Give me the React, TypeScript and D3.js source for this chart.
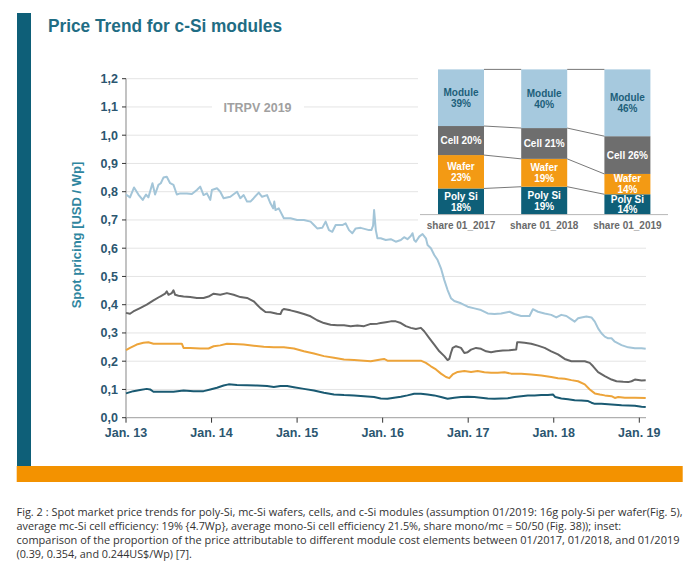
import * as d3 from "d3";

// spot prices in USD/Wp, [months since Jan. 2013, value]
const modulePrice: [number, number][] = [
  [0, 0.79], [0.56, 0.78], [1.13, 0.815], [1.74, 0.79], [2.35, 0.771], [2.81, 0.79], [3.14, 0.78],
  [3.71, 0.83], [4.08, 0.79], [4.55, 0.824], [4.88, 0.83], [5.25, 0.85], [5.72, 0.853], [6.19, 0.83],
  [6.66, 0.824], [7.13, 0.79], [7.6, 0.794], [8.53, 0.794], [9.24, 0.792], [9.94, 0.806], [10.41, 0.818],
  [10.88, 0.788], [11.35, 0.794], [11.82, 0.771], [12.05, 0.806], [12.76, 0.812], [13.22, 0.8],
  [13.69, 0.777], [14.63, 0.782], [15.57, 0.8], [16.04, 0.777], [16.51, 0.788], [16.98, 0.765],
  [17.45, 0.765], [17.91, 0.777], [18.62, 0.797], [19.09, 0.782], [19.79, 0.788], [20.26, 0.759],
  [20.64, 0.741], [20.8, 0.765], [20.97, 0.735], [21.43, 0.741], [22.14, 0.706], [23.08, 0.706],
  [24.01, 0.7], [24.95, 0.7], [25.89, 0.694], [26.36, 0.682], [26.82, 0.67], [27.53, 0.672], [28.0, 0.694],
  [28.47, 0.664], [28.94, 0.658], [29.41, 0.682], [30.35, 0.682], [30.81, 0.688], [31.28, 0.664],
  [31.75, 0.653], [32.22, 0.67], [32.92, 0.672], [34.09, 0.664], [34.42, 0.664], [34.66, 0.68],
  [34.8, 0.735], [35.04, 0.664], [35.27, 0.635], [35.73, 0.635], [36.44, 0.629], [37.14, 0.632],
  [37.84, 0.623], [38.55, 0.629], [39.01, 0.639], [39.48, 0.632], [39.95, 0.643], [40.19, 0.653],
  [40.42, 0.629], [40.66, 0.623], [41.13, 0.641], [41.6, 0.65], [42.07, 0.635], [42.3, 0.611],
  [42.77, 0.6], [43.24, 0.576], [43.71, 0.558], [44.18, 0.529], [44.65, 0.487], [45.11, 0.452],
  [45.58, 0.423], [46.05, 0.413], [46.99, 0.405], [47.93, 0.393], [48.87, 0.387], [49.8, 0.381],
  [50.74, 0.369], [51.68, 0.367], [52.62, 0.369], [53.8, 0.375], [54.49, 0.367], [55.43, 0.36],
  [56.6, 0.36], [57.07, 0.384], [57.78, 0.375], [58.72, 0.369], [59.65, 0.364], [60.36, 0.355],
  [61.06, 0.364], [61.77, 0.36], [62.47, 0.348], [62.94, 0.34], [63.41, 0.352], [63.88, 0.355],
  [64.58, 0.358], [65.29, 0.355], [65.76, 0.34], [66.22, 0.316], [66.69, 0.299], [67.16, 0.287],
  [67.63, 0.281], [68.1, 0.281], [68.57, 0.269], [69.51, 0.257], [70.44, 0.249], [71.38, 0.246],
  [72.32, 0.246], [72.9, 0.244],
];

const cellPrice: [number, number][] = [
  [0, 0.371], [0.56, 0.368], [1.03, 0.376], [1.97, 0.388], [2.91, 0.4], [3.85, 0.415], [4.78, 0.429],
  [5.49, 0.439], [5.72, 0.447], [5.96, 0.435], [6.43, 0.441], [6.66, 0.451], [6.9, 0.435], [7.36, 0.432],
  [8.07, 0.429], [9.0, 0.427], [9.94, 0.424], [10.88, 0.424], [11.58, 0.429], [12.29, 0.439],
  [13.22, 0.435], [14.16, 0.441], [15.1, 0.435], [16.04, 0.427], [16.98, 0.424], [17.91, 0.412],
  [18.38, 0.4], [18.85, 0.388], [19.56, 0.374], [20.26, 0.373], [21.2, 0.368], [21.67, 0.367],
  [21.9, 0.38], [22.14, 0.385], [23.08, 0.38], [24.01, 0.374], [24.95, 0.367], [25.89, 0.359],
  [26.82, 0.345], [27.76, 0.335], [28.7, 0.329], [29.64, 0.327], [30.58, 0.327], [31.51, 0.324],
  [32.45, 0.326], [33.39, 0.324], [34.33, 0.332], [35.27, 0.333], [35.73, 0.335], [36.44, 0.338],
  [37.14, 0.341], [37.84, 0.341], [38.55, 0.335], [39.25, 0.324], [39.95, 0.318], [40.66, 0.314],
  [41.36, 0.318], [41.83, 0.306], [42.54, 0.282], [43.24, 0.259], [43.95, 0.235], [44.65, 0.218],
  [45.11, 0.204], [45.35, 0.208], [45.58, 0.229], [45.82, 0.247], [46.29, 0.253], [46.99, 0.247],
  [47.46, 0.229], [47.93, 0.232], [48.4, 0.241], [49.1, 0.247], [49.8, 0.244], [50.51, 0.235],
  [51.21, 0.232], [51.92, 0.235], [52.86, 0.238], [53.8, 0.239], [54.73, 0.241], [54.87, 0.267],
  [55.2, 0.267], [55.9, 0.265], [56.84, 0.262], [57.78, 0.255], [58.72, 0.247], [59.65, 0.235],
  [60.59, 0.224], [61.53, 0.208], [62.47, 0.2], [63.41, 0.2], [64.35, 0.2], [65.05, 0.194],
  [65.52, 0.182], [66.22, 0.161], [67.16, 0.147], [68.1, 0.135], [68.8, 0.129], [69.74, 0.127],
  [70.44, 0.126], [70.91, 0.129], [71.38, 0.135], [72.32, 0.132], [72.9, 0.133],
];

const waferPrice: [number, number][] = [
  [0, 0.239], [0.56, 0.247], [1.5, 0.259], [2.44, 0.265], [3.14, 0.267], [3.85, 0.262], [4.78, 0.262],
  [6.19, 0.262], [7.83, 0.262], [8.07, 0.247], [9.0, 0.247], [10.41, 0.245], [11.58, 0.245],
  [12.29, 0.253], [13.22, 0.256], [14.16, 0.262], [15.1, 0.261], [16.51, 0.259], [17.91, 0.255],
  [19.32, 0.251], [20.73, 0.249], [22.14, 0.249], [23.55, 0.245], [24.95, 0.235], [26.36, 0.227],
  [27.76, 0.218], [29.17, 0.212], [30.58, 0.206], [31.99, 0.204], [33.39, 0.202], [34.33, 0.2],
  [35.73, 0.206], [36.2, 0.208], [36.67, 0.202], [38.55, 0.202], [39.95, 0.202], [41.36, 0.202],
  [42.07, 0.194], [42.77, 0.182], [43.48, 0.171], [44.18, 0.156], [44.89, 0.144], [45.35, 0.14],
  [45.82, 0.153], [46.52, 0.162], [47.46, 0.165], [48.4, 0.162], [49.33, 0.165], [50.27, 0.161],
  [51.21, 0.159], [52.15, 0.159], [53.09, 0.161], [54.02, 0.156], [55.43, 0.156], [56.84, 0.153],
  [58.25, 0.149], [59.65, 0.144], [60.59, 0.14], [61.53, 0.138], [62.47, 0.133], [63.41, 0.129],
  [64.35, 0.118], [65.05, 0.1], [65.76, 0.086], [66.46, 0.082], [67.16, 0.079], [68.1, 0.076],
  [68.57, 0.07], [69.04, 0.073], [69.98, 0.071], [71.38, 0.071], [72.9, 0.07],
];

const polyPrice: [number, number][] = [
  [0, 0.086], [1.03, 0.094], [1.97, 0.098], [2.91, 0.102], [3.38, 0.1], [3.85, 0.092], [5.25, 0.092],
  [6.66, 0.092], [8.07, 0.096], [9.47, 0.094], [10.88, 0.094], [11.82, 0.1], [12.76, 0.106],
  [13.69, 0.114], [14.4, 0.118], [15.57, 0.116], [16.98, 0.115], [18.38, 0.114], [19.79, 0.112],
  [20.73, 0.109], [21.67, 0.112], [22.61, 0.112], [23.55, 0.108], [24.95, 0.102], [26.36, 0.096],
  [27.76, 0.088], [29.17, 0.082], [30.58, 0.08], [31.99, 0.079], [33.39, 0.076], [34.8, 0.073],
  [35.73, 0.068], [36.67, 0.067], [37.6, 0.071], [38.55, 0.074], [39.48, 0.079], [40.42, 0.085],
  [41.36, 0.085], [42.3, 0.082], [43.24, 0.079], [44.18, 0.073], [45.11, 0.067], [46.05, 0.071],
  [46.99, 0.073], [47.93, 0.074], [48.87, 0.073], [49.8, 0.071], [50.74, 0.068], [51.68, 0.067],
  [52.62, 0.068], [53.56, 0.069], [54.49, 0.073], [55.43, 0.076], [56.37, 0.079], [57.31, 0.079],
  [58.25, 0.08], [59.18, 0.08], [59.89, 0.082], [60.22, 0.073], [61.06, 0.068], [62.0, 0.065],
  [62.94, 0.062], [63.88, 0.061], [64.82, 0.059], [65.29, 0.053], [65.76, 0.049], [66.69, 0.049],
  [67.63, 0.048], [68.57, 0.046], [69.51, 0.044], [70.44, 0.043], [71.38, 0.042], [72.32, 0.039],
  [72.9, 0.038],
];

const yTicks = [0, 0.1, 0.2, 0.3, 0.4, 0.5, 0.6, 0.7, 0.8, 0.9, 1.0, 1.1, 1.2];
const xTickMonths = [0, 12, 24, 36, 48, 60, 72];
const xTickLabels = ["Jan. 13", "Jan. 14", "Jan. 15", "Jan. 16", "Jan. 17", "Jan. 18", "Jan. 19"];

// inset: share of module price (%)
const shareYears = ["share 01_2017", "share 01_2018", "share 01_2019"];
const polyShare = [18, 19, 14];
const waferShare = [23, 19, 14];
const cellShare = [20, 21, 26];
const moduleShare = [39, 40, 46];

const caption = [
  "Fig. 2 : Spot market price trends for poly-Si, mc-Si wafers, cells, and c-Si modules (assumption 01/2019: 16g poly-Si per wafer(Fig. 5),",
  "average mc-Si cell efficiency: 19% {4.7Wp}, average mono-Si cell efficiency 21.5%, share mono/mc = 50/50 (Fig. 38)); inset:",
  "comparison of the proportion of the price attributable to different module cost elements between 01/2017, 01/2018, and 01/2019",
  "(0.39, 0.354, and 0.244US$/Wp) [7].",
];
// only the full lines are stretched to the text block width
const captionWidths: (number | undefined)[] = [666, undefined, 663, undefined];

const FONT = "'Liberation Sans', Arial, sans-serif";
const TEAL = "#0e5f78";
const TICK_TEXT = "#2b5670";

const segs = [
  { key: "poly", name: "Poly Si", fill: "#0e5f78", text: "#ffffff", oneLine: false },
  { key: "wafer", name: "Wafer", fill: "#f39a14", text: "#ffffff", oneLine: false },
  { key: "cell", name: "Cell", fill: "#6e6e6e", text: "#ffffff", oneLine: true },
  { key: "module", name: "Module", fill: "#a6c9de", text: "#1d5f7a", oneLine: false },
];
const shareByKey: Record<string, number[]> = {
  poly: polyShare,
  wafer: waferShare,
  cell: cellShare,
  module: moduleShare,
};

const series = [
  { data: polyPrice, color: "#1a5a72" },
  { data: waferPrice, color: "#eda43a" },
  { data: cellPrice, color: "#666666" },
  { data: modulePrice, color: "#a3c5d8" },
];

export default function App() {
  const x = d3.scaleLinear().domain([0, 72]).range([126, 639.3]);
  const y = d3.scaleLinear().domain([0, 1.2]).range([417.7, 78.7]);
  const plotRight = 646;

  const line = d3
    .line<[number, number]>()
    .x((d) => x(d[0]))
    .y((d) => y(d[1]));

  // inset scales
  const rows = shareYears.map((yr, i) => ({
    yr,
    poly: polyShare[i],
    wafer: waferShare[i],
    cell: cellShare[i],
    module: moduleShare[i],
  }));
  const stacked = d3
    .stack<any>()
    .keys(segs.map((s) => s.key))
    .offset(d3.stackOffsetExpand)(rows);
  const ix = d3.scalePoint().domain(shareYears).range([461, 627.4]);
  const iy = d3.scaleLinear().domain([0, 1]).range([214.6, 69.4]);
  const bw = 46;

  const fmt = (v: number) => d3.format(".1f")(v).replace(".", ",");

  return (
    <svg
      width={700}
      height={571}
      style={{ position: "absolute", left: 0, top: 0, background: "#fff" }}
      fontFamily={FONT}
    >
      <rect x={0} y={0} width={700} height={571} fill="#fff" />
      {/* frame */}
      <rect x={17} y={13} width={14} height={453} fill={TEAL} />
      <rect x={16.7} y={466} width={666} height={16} fill="#f39200" />

      <text x={48} y={32} fontSize={18} fontWeight="bold" fill="#1f6d84" textLength={234} lengthAdjust="spacingAndGlyphs">
        Price Trend for c-Si modules
      </text>

      {/* grid */}
      {yTicks.slice(1).map((t) => (
        <line key={t} x1={x(0)} x2={plotRight} y1={y(t)} y2={y(t)} stroke="#e4e4e4" strokeWidth={1} />
      ))}

      {/* ITRPV label */}
      <rect x={212} y={100} width={92} height={14} fill="#fff" />
      <text x={257.5} y={111.5} textAnchor="middle" fontSize={12.5} fontWeight="bold" fill="#a0a0a0">
        ITRPV 2019
      </text>

      {/* axes */}
      <line x1={x(0)} x2={x(0)} y1={y(1.2)} y2={y(0)} stroke="#9a9a9a" strokeWidth={1.2} />
      <line x1={x(0)} x2={plotRight} y1={y(0)} y2={y(0)} stroke="#b0b0b0" strokeWidth={1.2} />
      {yTicks.map((t) => (
        <g key={t}>
          <line x1={x(0) - 4} x2={x(0)} y1={y(t)} y2={y(t)} stroke="#333" strokeWidth={1} />
          <text x={118} y={y(t) + 4.5} textAnchor="end" fontSize={12.5} fontWeight="bold" fill={TICK_TEXT}>
            {fmt(t)}
          </text>
        </g>
      ))}
      {xTickMonths.map((m, i) => (
        <g key={m}>
          <line x1={x(m)} x2={x(m)} y1={y(0)} y2={y(0) + 5} stroke="#333" strokeWidth={1} />
          <text x={x(m)} y={437} textAnchor="middle" fontSize={12.5} fontWeight="bold" fill={TICK_TEXT}>
            {xTickLabels[i]}
          </text>
        </g>
      ))}
      <text
        transform="translate(81,235) rotate(-90)"
        textAnchor="middle"
        fontSize={13}
        fontWeight="bold"
        fill="#2f86a0"
      >
        Spot pricing [USD / Wp]
      </text>

      {/* price lines */}
      {series.map((s, i) => (
        <path key={i} d={line(s.data) || ""} fill="none" stroke={s.color} strokeWidth={2} strokeLinejoin="round" />
      ))}

      {/* inset */}
      <rect x={418} y={60} width={254} height={172} fill="#fff" />
      {stacked.map((layer, k) =>
        layer.map((d, i) => {
          const cx = ix(shareYears[i]) as number;
          const y0 = iy(d[0]);
          const y1 = iy(d[1]);
          const mid = (y0 + y1) / 2;
          const seg = segs[k];
          const pct = `${shareByKey[seg.key][i]}%`;
          return (
            <g key={`${k}-${i}`}>
              <rect x={cx - bw / 2} y={y1} width={bw} height={y0 - y1} fill={seg.fill} />
              {seg.oneLine ? (
                <text x={cx} y={mid + 3.6} textAnchor="middle" fontSize={10} fontWeight="bold" fill={seg.text}>
                  {`${seg.name} ${pct}`}
                </text>
              ) : (
                <text x={cx} textAnchor="middle" fontSize={10} fontWeight="bold" fill={seg.text}>
                  <tspan x={cx} y={mid - 1.8}>{seg.name}</tspan>
                  <tspan x={cx} y={mid + 9}>{pct}</tspan>
                </text>
              )}
            </g>
          );
        })
      )}
      {/* connectors between columns */}
      {stacked.map((layer, k) =>
        layer.slice(0, -1).map((d, i) => (
          <line
            key={`c${k}-${i}`}
            x1={(ix(shareYears[i]) as number) + bw / 2}
            x2={(ix(shareYears[i + 1]) as number) - bw / 2}
            y1={iy(d[1])}
            y2={iy(layer[i + 1][1])}
            stroke="#555"
            strokeWidth={0.8}
          />
        ))
      )}
      <line x1={420} x2={668} y1={iy(0)} y2={iy(0)} stroke="#b8b8b8" strokeWidth={1} />
      {shareYears.map((s) => (
        <text key={s} x={ix(s) as number} y={229} textAnchor="middle" fontSize={10} fontWeight="bold" fill="#6a6a6a">
          {s}
        </text>
      ))}

      {/* caption */}
      {caption.map((c, i) => (
        <text
          key={i}
          x={16.5}
          y={515.5 + i * 14.2}
          fontSize={10.8}
          fill="#333"
          fontFamily="'Open Sans', 'Liberation Sans', sans-serif"
          textLength={captionWidths[i]}
          lengthAdjust={captionWidths[i] ? "spacingAndGlyphs" : undefined}
        >
          {c}
        </text>
      ))}
    </svg>
  );
}
